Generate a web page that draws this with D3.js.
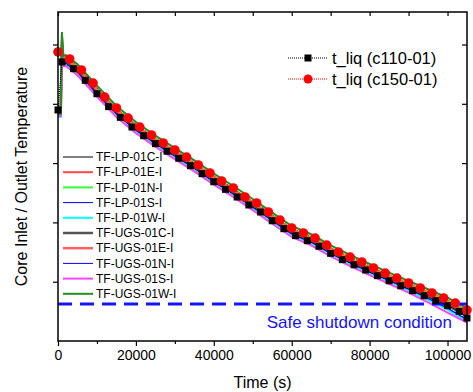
<!DOCTYPE html>
<html>
<head>
<meta charset="utf-8">
<script src="https://cdn.jsdelivr.net/npm/d3@7"></script>
<style>
  body { margin: 0; background: #fff; }
  text { font-family: Arial, "Liberation Sans", sans-serif; }
</style>
</head>
<body>
<div id="chart"></div>
<script>
// chart size
const width = 473;
const height = 392;
const margin = { top: 12, right: 6, bottom: 51, left: 58 };

// RELAP-type calculated liquid temperatures
const simTime150 = [0, 3000, 6000, 9000, 12000, 15000, 18000, 21000, 24000, 27000, 30000, 33000,
  36000, 39000, 42000, 45000, 48000, 51000, 54000, 57000, 60000, 63000, 66000, 69000,
  72000, 75000, 78000, 81000, 84000, 87000, 90000, 93000, 96000, 99000, 102000, 105000];
const tLiq150 = [543.7, 537.8, 528.5, 517.5, 505.7, 496.5, 488.0, 480.4, 473.7, 467.0, 461.1, 455.1,
  448.4, 441.7, 434.9, 429.0, 421.4, 416.4, 408.8, 402.0, 395.3, 391.1, 386.8, 380.9,
  375.0, 370.8, 366.6, 361.6, 357.3, 353.1, 348.9, 344.7, 340.5, 336.3, 332.0, 326.1];

const simTime110 = [0, 1000, 4000, 7000, 10000, 13000, 16000, 19000, 22000, 25000, 28000, 31000,
  34000, 37000, 40000, 43000, 46000, 49000, 52000, 55000, 58000, 61000, 64000, 67000,
  70000, 73000, 76000, 79000, 82000, 85000, 88000, 91000, 94000, 97000, 100000, 103000, 105000];
const tLiq110 = [494.8, 535.3, 529.6, 519.8, 508.5, 497.6, 488.6, 480.4, 473.1, 466.4, 460.0, 454.1,
  447.8, 441.1, 434.3, 427.9, 421.4, 414.7, 408.8, 401.4, 394.7, 388.8, 384.6, 379.9,
  373.9, 368.6, 364.3, 359.9, 355.1, 350.8, 346.6, 342.4, 338.2, 334.0, 329.8, 325.0, 319.4];

// measured thermocouple data
const expTime = [0, 700, 1000, 1400, 2000, 5000, 10000, 15000, 20000, 25000, 30000, 35000, 40000,
  45000, 50000, 55000, 60000, 65000, 70000, 75000, 80000, 85000, 90000, 95000, 100000, 105000];
const tfLP01C = [492.2, 492.2, 549.6, 535.2, 536.1, 528.2, 510.2, 493.0, 479.5, 468.0, 457.6, 447.2, 436.0,
  425.6, 414.6, 403.1, 391.9, 384.9, 375.6, 367.4, 359.8, 352.5, 345.5, 338.5, 331.0, 321.8];
const tfLP01E = [491.4, 491.4, 558.0, 536.9, 537.8, 529.9, 511.9, 494.7, 481.2, 469.7, 459.3, 448.9, 437.7,
  427.3, 416.3, 404.8, 393.6, 386.6, 377.3, 369.1, 361.5, 354.2, 347.2, 340.2, 333.1, 324.4];
const tfLP01N = [492.2, 492.2, 553.8, 536.9, 538.6, 530.8, 512.8, 495.6, 482.1, 470.6, 460.2, 449.8, 438.6,
  428.2, 417.2, 405.7, 394.5, 387.5, 378.2, 370.0, 362.4, 355.1, 348.1, 341.1, 334.0, 325.3];
const tfLP01S = [490.5, 490.5, 547.0, 533.5, 534.4, 526.5, 508.5, 491.3, 477.8, 466.3, 455.9, 445.5, 434.3,
  423.9, 412.9, 401.4, 390.2, 383.2, 373.9, 365.7, 358.1, 350.8, 343.8, 336.0, 327.9, 318.2];
const tfLP01W = [488.8, 488.8, 545.3, 532.7, 533.5, 525.7, 507.7, 490.5, 477.0, 465.5, 455.1, 444.7, 433.5,
  423.1, 412.1, 400.6, 389.4, 382.4, 373.1, 364.9, 357.3, 350.0, 342.6, 334.6, 326.4, 316.5];
const tfUGS01C = [492.2, 492.2, 549.6, 534.4, 535.2, 527.4, 509.4, 492.2, 478.7, 467.2, 456.8, 446.4, 435.2,
  424.8, 413.8, 402.3, 391.1, 384.1, 374.8, 366.6, 359.0, 351.7, 344.7, 337.7, 330.0, 320.8];
const tfUGS01E = [491.4, 491.4, 552.1, 536.1, 537.8, 530.2, 512.0, 494.5, 481.4, 469.5, 459.5, 448.7, 437.9,
  427.1, 416.5, 404.6, 393.8, 386.4, 377.5, 368.9, 361.7, 354.0, 347.4, 340.0, 332.6, 323.5];
const tfUGS01N = [489.7, 489.7, 547.0, 533.5, 534.4, 526.7, 508.3, 491.5, 477.6, 466.5, 455.7, 445.7, 434.1,
  424.1, 412.7, 401.6, 390.0, 383.4, 373.7, 365.9, 357.9, 351.0, 343.6, 335.8, 327.5, 317.8];
const tfUGS01S = [489.7, 489.7, 545.3, 531.9, 531.9, 524.0, 506.0, 488.8, 475.3, 463.8, 453.4, 443.0, 431.8,
  421.4, 410.4, 398.9, 387.7, 380.7, 371.4, 363.2, 355.6, 348.3, 340.8, 332.5, 324.0, 315.5];
const tfUGS01W = [491.4, 491.4, 560.5, 540.3, 541.1, 533.3, 515.3, 498.1, 484.6, 473.1, 462.7, 452.3, 441.1,
  430.7, 419.7, 408.2, 397.0, 390.0, 380.7, 372.5, 364.9, 357.6, 350.6, 343.6, 336.5, 327.8];

const expNames = ["TF-LP-01C-I", "TF-LP-01E-I", "TF-LP-01N-I", "TF-LP-01S-I", "TF-LP-01W-I",
  "TF-UGS-01C-I", "TF-UGS-01E-I", "TF-UGS-01N-I", "TF-UGS-01S-I", "TF-UGS-01W-I"];
const expValues = [tfLP01C, tfLP01E, tfLP01N, tfLP01S, tfLP01W,
  tfUGS01C, tfUGS01E, tfUGS01N, tfUGS01S, tfUGS01W];

// safe shutdown temperature
const safeShutdown = 331.2;

// axis ticks
const xMajorTicks = [0, 20000, 40000, 60000, 80000, 100000];
const xMinorTicks = [10000, 30000, 50000, 70000, 90000];
const yTicks = [350, 400, 450, 500, 550];

// styles for the measured lines
const expColors = ["#000000", "#ff4a4a", "#33ff33", "#0000ff", "#00ffff",
  "#555555", "#ff5f5f", "#0000ff", "#ff44ff", "#238e23"];
const expWidths = [1, 2, 2, 1, 2, 2.5, 2.5, 1, 2, 2];

const x = d3.scaleLinear().domain([0, 105000]).range([margin.left, width - margin.right]);
const y = d3.scaleLinear().domain([300, 577.4]).range([height - margin.bottom, margin.top]);

const svg = d3.select("#chart")
    .append("svg")
    .attr("width", width)
    .attr("height", height);

// measured data lines
const line = d3.line().x(d => x(d[0])).y(d => y(d[1]));

expValues.forEach((vals, i) => {
    svg.append("path")
        .datum(expTime.map((t, j) => [t, vals[j]]))
        .attr("d", line)
        .attr("fill", "none")
        .attr("stroke", expColors[i])
        .attr("stroke-width", expWidths[i]);
});

// safe shutdown line
svg.append("line")
    .attr("x1", x(0)).attr("x2", x(105000))
    .attr("y1", y(safeShutdown)).attr("y2", y(safeShutdown))
    .attr("stroke", "#1414ff")
    .attr("stroke-width", 3)
    .attr("stroke-dasharray", "14,8");

svg.append("text")
    .attr("x", 452).attr("y", 328)
    .attr("text-anchor", "end")
    .attr("fill", "#1414ff")
    .style("font-size", "17px")
    .text("Safe shutdown condition");

// c110-01 (black squares)
const sim110 = simTime110.map((t, i) => [t, tLiq110[i]]);
svg.append("path")
    .datum(sim110)
    .attr("d", line)
    .attr("fill", "none")
    .attr("stroke", "#000")
    .attr("stroke-width", 1)
    .attr("stroke-dasharray", "1,1");
svg.selectAll(".sq")
    .data(sim110)
    .enter().append("rect")
    .attr("class", "sq")
    .attr("x", d => x(d[0]) - 3.5)
    .attr("y", d => y(d[1]) - 3.5)
    .attr("width", 7).attr("height", 7)
    .attr("fill", "#000");

// c150-01 (red circles)
const sim150 = simTime150.map((t, i) => [t, tLiq150[i]]);
svg.append("path")
    .datum(sim150)
    .attr("d", line)
    .attr("fill", "none")
    .attr("stroke", "#ff0000")
    .attr("stroke-width", 1)
    .attr("stroke-dasharray", "1,1");
svg.selectAll(".dot")
    .data(sim150)
    .enter().append("circle")
    .attr("class", "dot")
    .attr("cx", d => x(d[0]))
    .attr("cy", d => y(d[1]))
    .attr("r", 4.8)
    .attr("fill", "#ff0000");

// axes
const x0 = x.range()[0], x1 = x.range()[1];
const y0 = y.range()[0], y1 = y.range()[1];

const axisBottomG = svg.append("g").attr("transform", `translate(0,${y0})`)
    .call(d3.axisBottom(x).tickValues(xMajorTicks).tickSize(5).tickPadding(4).tickFormat(d3.format("d")));
const axisBottomMinorG = svg.append("g").attr("transform", `translate(0,${y0})`)
    .call(d3.axisBottom(x).tickValues(xMinorTicks).tickSize(3).tickFormat(""));
const axisTopG = svg.append("g").attr("transform", `translate(0,${y1})`)
    .call(d3.axisBottom(x).tickValues(xMajorTicks.concat(xMinorTicks)).tickSize(4).tickFormat(""));
const axisLeftG = svg.append("g").attr("transform", `translate(${x0},0)`)
    .call(d3.axisLeft(y).tickValues(yTicks).tickSize(5).tickFormat(""));
const axisRightG = svg.append("g").attr("transform", `translate(${x1},0)`)
    .call(d3.axisLeft(y).tickValues(yTicks).tickSize(5).tickFormat(""));

[axisBottomG, axisBottomMinorG, axisTopG, axisLeftG, axisRightG].forEach(g => {
    g.select(".domain").remove();
    g.selectAll("line").attr("stroke", "#000").attr("stroke-width", 1.2);
});
axisBottomG.selectAll("text").style("font-size", "14px").attr("fill", "#000");

svg.append("rect")
    .attr("x", x0).attr("y", y1)
    .attr("width", x1 - x0).attr("height", y0 - y1)
    .attr("fill", "none")
    .attr("stroke", "#000")
    .attr("stroke-width", 1.5);

// axis titles
svg.append("text")
    .attr("x", (x0 + x1) / 2).attr("y", 388)
    .attr("text-anchor", "middle")
    .style("font-size", "16px")
    .text("Time (s)");

svg.append("text")
    .attr("transform", `translate(27,${(y0 + y1) / 2}) rotate(-90)`)
    .attr("text-anchor", "middle")
    .style("font-size", "16px")
    .text("Core Inlet / Outlet Temperature");

// left legend (measurements)
const legend = svg.append("g");
const legendItems = legend.selectAll(".legend-item")
    .data(expNames)
    .enter().append("g")
    .attr("class", "legend-item")
    .attr("transform", (d, i) => `translate(63,${157 + i * 15.2})`);

legendItems.append("line")
    .attr("x1", 0).attr("x2", 30)
    .attr("stroke", (d, i) => expColors[i])
    .attr("stroke-width", (d, i) => expWidths[i]);

legendItems.append("text")
    .attr("x", 33)
    .attr("dy", "0.35em")
    .style("font-size", "12px")
    .text(d => d);

// right legend (calculations)
const simLegend = [
    { name: "t_liq (c110-01)", color: "#000", shape: "square" },
    { name: "t_liq (c150-01)", color: "#ff0000", shape: "circle" }
];
const simItems = svg.selectAll(".sim-item")
    .data(simLegend)
    .enter().append("g")
    .attr("class", "sim-item")
    .attr("transform", (d, i) => `translate(288,${58 + i * 21})`);

simItems.append("line")
    .attr("x1", 0).attr("x2", 39)
    .attr("stroke", d => d.color)
    .attr("stroke-width", 1)
    .attr("stroke-dasharray", "1,1");

simItems.each(function(d) {
    const g = d3.select(this);
    if (d.shape === "square") {
        g.append("rect").attr("x", 16.5).attr("y", -3.5).attr("width", 7).attr("height", 7).attr("fill", d.color);
    } else {
        g.append("circle").attr("cx", 20).attr("cy", 0).attr("r", 4.5).attr("fill", d.color);
    }
});

simItems.append("text")
    .attr("x", 44)
    .attr("dy", "0.35em")
    .style("font-size", "16.5px")
    .text(d => d.name);
</script>
</body>
</html>
